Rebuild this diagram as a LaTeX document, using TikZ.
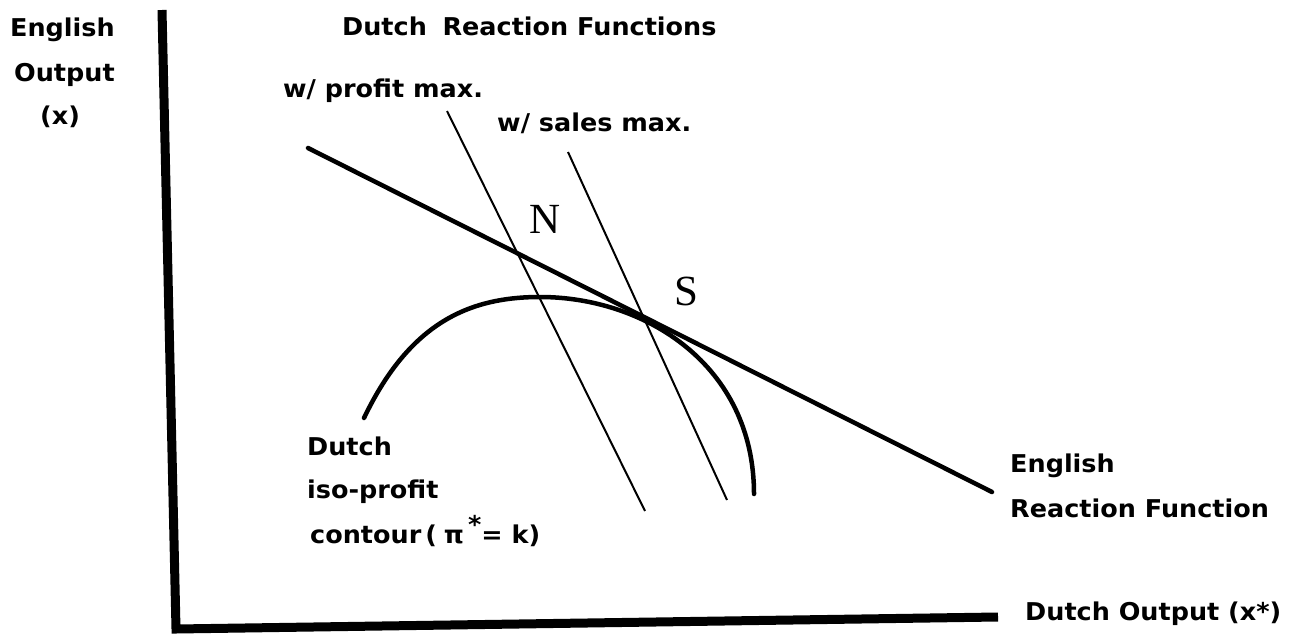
\documentclass[tikz,border=0pt]{standalone}
\usepackage{fontspec}
\newfontfamily\handfont{DejaVu Sans}[BoldFont={DejaVu Sans Bold},FakeStretch=1.04]
\newfontfamily\serifpt{Liberation Serif}
\begin{document}
\begin{tikzpicture}[x=1pt,y=-1pt,
  lbl/.style={anchor=base west,inner sep=0pt,font=\handfont\bfseries\fontsize{24.5}{30}\selectfont},
  pt/.style={anchor=base,inner sep=0pt,font=\serifpt\fontsize{43}{44}\selectfont},
  axis/.style={line width=9pt},
  thick curve/.style={line width=4.5pt,line cap=round},
  thin line/.style={line width=2pt}]
\useasboundingbox (0,0) rectangle (1298,637);
% axes
\coordinate (ytop) at (162,10);
\coordinate (O) at (176,629);
\coordinate (xend) at (998,617);
\draw[axis] (ytop) -- (O) -- (xend);
% English reaction function
\coordinate (e1) at (308,148);
\coordinate (e2) at (992,492);
\draw[thick curve] (e1) -- (e2);
% Dutch reaction functions
\coordinate (p1) at (447,111);
\coordinate (p2) at (645,511);
\draw[thin line] (p1) -- (p2);
\coordinate (s1) at (568,152);
\coordinate (s2) at (727,500);
\draw[thin line] (s1) -- (s2);
% iso-profit contour
\coordinate (c1) at (364,418);
\coordinate (ctop) at (540,297);
\coordinate (c2) at (754,494);
\draw[thick curve] (c1) .. controls (410,322) and (470,297) .. (ctop)
  .. controls (645,297) and (754,365) .. (c2);
% labels
\node[lbl] (eo1) at (10,36) {English};
\node[lbl] (eo2) at (14,81) {Output};
\node[lbl] (eo3) at (40,124) {(x)};
\node[lbl] (drf) at (342,35) {Dutch\; Reaction Functions};
\node[lbl] (wpm) at (283,97) {w/ profit max.};
\node[lbl] (wsm) at (497,131) {w/ sales max.};
\node[pt] (N) at (545,233) {N};
\node[pt] (S) at (686,305) {S};
\node[lbl] (d1) at (307,455) {Dutch};
\node[lbl] (d2) at (307,498) {iso-profit};
\node[lbl] (d3) at (310,543) {contour\,(\;π\,\raisebox{0.4em}{*}= k)};
\node[lbl] (er1) at (1010,472) {English};
\node[lbl] (er2) at (1010,517) {Reaction Function};
\node[lbl] (dox) at (1025,620) {Dutch Output (x*)};
\end{tikzpicture}
\end{document}
